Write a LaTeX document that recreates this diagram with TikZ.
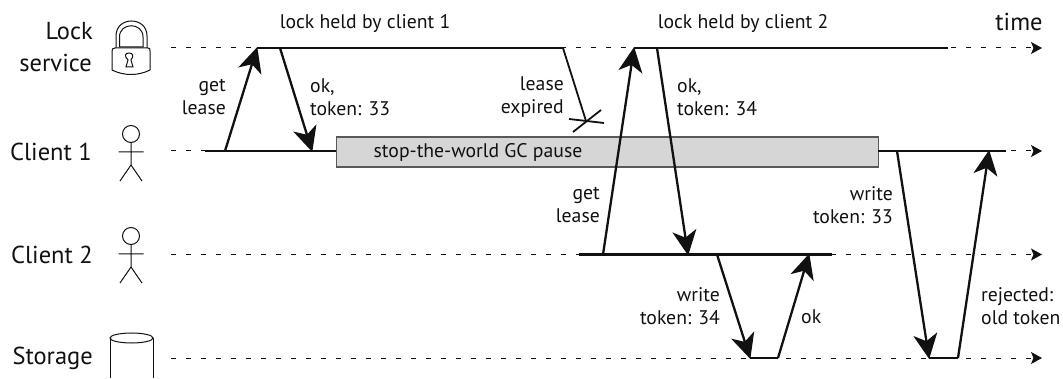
\documentclass[tikz,border=0pt]{standalone}
\usepackage{fontspec}
\setmainfont{PT Sans}
\usetikzlibrary{arrows.meta}
\definecolor{ink}{HTML}{111111}
\tikzset{
 x=1pt,y=-1pt,
 dashline/.style={draw=ink,line width=1pt,dash pattern=on 5pt off 10pt,-{Stealth[length=11pt,width=12pt,inset=2.5pt]}},
 held/.style={draw=ink,line width=2.3pt},
 msg/.style={draw=ink,line width=2.3pt,-{Stealth[length=25pt,width=24pt,inset=7pt]},shorten >=-1pt},
 expire/.style={draw=ink,line width=1.8pt},
 icon/.style={draw=ink,line width=1pt},
 actor/.style={font=\fontsize{24.5}{24}\selectfont,anchor=east,align=right,inner sep=0pt,text=ink},
 lab/.style={font=\fontsize{19.7}{23.5}\selectfont,inner sep=0pt,text=ink},
 pause/.style={draw=black!65,line width=1.2pt,fill=black!16,inner sep=0pt,minimum width=542pt,minimum height=30pt,anchor=west}
}
\newcommand{\stickman}[2]{%
 \draw[icon] (#1,#2-18) circle (8.5);
 \draw[icon] (#1,#2-9.5) -- (#1,#2+13) (#1-12.5,#2) -- (#1+12.5,#2) (#1-11,#2+29) -- (#1,#2+13) -- (#1+11,#2+29);
}
\begin{document}
\begin{tikzpicture}
\useasboundingbox (0,0) rectangle (1063,379);
% lifelines
\coordinate (ls) at (171,48); \coordinate (le) at (1042,48);
\coordinate (c1s) at (171,151); \coordinate (c1e) at (1042,151);
\coordinate (c2s) at (171,254.5); \coordinate (c2e) at (1042,254.5);
\coordinate (ss) at (171,358); \coordinate (se) at (1042,358);
\draw[dashline] (ls) -- (le);
\draw[dashline] (c1s) -- (c1e);
\draw[dashline] (c2s) -- (c2e);
\draw[dashline] (ss) -- (se);
% actor labels
\node[actor] (lock1) at (93,31) {Lock};
\node[actor] (lock2) at (92,63) {service};
\node[actor] (cl1) at (92,152) {Client 1};
\node[actor] (cl2) at (93,255) {Client 2};
\node[actor] (sto) at (93,358) {Storage};
\node[font=\fontsize{24.5}{24}\selectfont,inner sep=0pt,text=ink] (time) at (1019,22) {time};
% lock icon
\draw[icon] (116,48) -- (116,36) .. controls (116,16) and (147,16) .. (147,36) -- (147,48);
\draw[icon] (119.5,47) -- (119.5,37) .. controls (119.5,22) and (143,22) .. (143,37) -- (143,47) -- cycle;
\draw[icon] (115,48) -- (148,48) .. controls (150,48) and (150,49) .. (150,51) -- (150,70)
  .. controls (138,76) and (124,76) .. (112,70) -- (112,51) .. controls (112,49) and (113,48) .. (115,48) -- cycle;
\draw[icon] (126,67) -- (128,60) .. controls (124,56) and (125,53) .. (129,53) .. controls (133,53) and (134,56) .. (131,60) -- (133,67) -- cycle;
% people
\stickman{131}{152}
\stickman{131}{254}
% storage
\draw[icon] (110,338) -- (110,378) (153,338) -- (153,378);
\draw[icon] (131.5,338) ellipse (21.5 and 5);
% pause box
\node[pause] (gc) at (336,152) {};
\node[lab] (gct) at (478,152) {stop-the-world GC pause};
% held segments
\coordinate (h1a) at (257,48); \coordinate (h1b) at (563,48);
\coordinate (h2a) at (634,48); \coordinate (h2b) at (948,48);
\coordinate (c1a) at (205,151); \coordinate (c1b) at (336,151);
\coordinate (c1c) at (878,151); \coordinate (c1d) at (1006,151);
\coordinate (c2a) at (579,254.5); \coordinate (c2b) at (832,254.5);
\coordinate (s1a) at (750,358); \coordinate (s1b) at (778,358);
\coordinate (s2a) at (929,358); \coordinate (s2b) at (958,358);
\draw[held] (h1a) -- (h1b);
\draw[held] (h2a) -- (h2b);
\draw[held] (c1a) -- (c1b);
\draw[held] (c1c) -- (c1d);
\draw[held] (c2a) -- (c2b);
\draw[held] (s1a) -- (s1b);
\draw[held] (s2a) -- (s2b);
% messages
\coordinate (a1) at (225,151); \coordinate (a2) at (257,48);
\coordinate (b1) at (280,48); \coordinate (b2) at (312,151);
\coordinate (d1) at (603,254.5); \coordinate (d2) at (634,48);
\coordinate (e1) at (657,48); \coordinate (e2) at (688,254.5);
\coordinate (f1) at (717,254.5); \coordinate (f2) at (750,358);
\coordinate (g1) at (778,358); \coordinate (g2) at (809,254.5);
\coordinate (i1) at (897,151); \coordinate (i2) at (929,358);
\coordinate (j1) at (958,358); \coordinate (j2) at (989,151);
\draw[msg] (a1) -- (a2);
\draw[msg] (b1) -- (b2);
\draw[msg] (d1) -- (d2);
\draw[msg] (e1) -- (e2);
\draw[msg] (f1) -- (f2);
\draw[msg] (g1) -- (g2);
\draw[msg] (i1) -- (i2);
\draw[msg] (j1) -- (j2);
% lease expiry
\coordinate (x0) at (586,121);
\coordinate (x1) at (569,119); \coordinate (x2) at (604,123);
\coordinate (x3) at (573,132); \coordinate (x4) at (601,110);
\draw[expire] (h1b) -- (x0);
\draw[expire] (x1) -- (x2);
\draw[expire] (x3) -- (x4);
% labels
\node[lab] (t1) at (365,24) {lock held by client 1};
\node[lab] (t2) at (743,24) {lock held by client 2};
\node[lab,align=right,anchor=east] (l1) at (226,97) {get\\lease};
\node[lab,align=left,anchor=west] (l2) at (310,97) {ok,\\token: 33};
\node[lab,align=right,anchor=east] (l3) at (564,97) {lease\\expired};
\node[lab,align=left,anchor=west] (l4) at (677,97) {ok,\\token: 34};
\node[lab,align=right,anchor=east] (l5) at (600,205) {get\\lease};
\node[lab,align=right,anchor=east] (l6) at (893,205) {write\\token: 33};
\node[lab,align=right,anchor=east] (l7) at (720,306) {write\\token: 34};
\node[lab,anchor=west] (l8) at (801,317) {ok};
\node[lab,align=left,anchor=west] (l9) at (981,306) {rejected:\\old token};
\end{tikzpicture}
\end{document}
